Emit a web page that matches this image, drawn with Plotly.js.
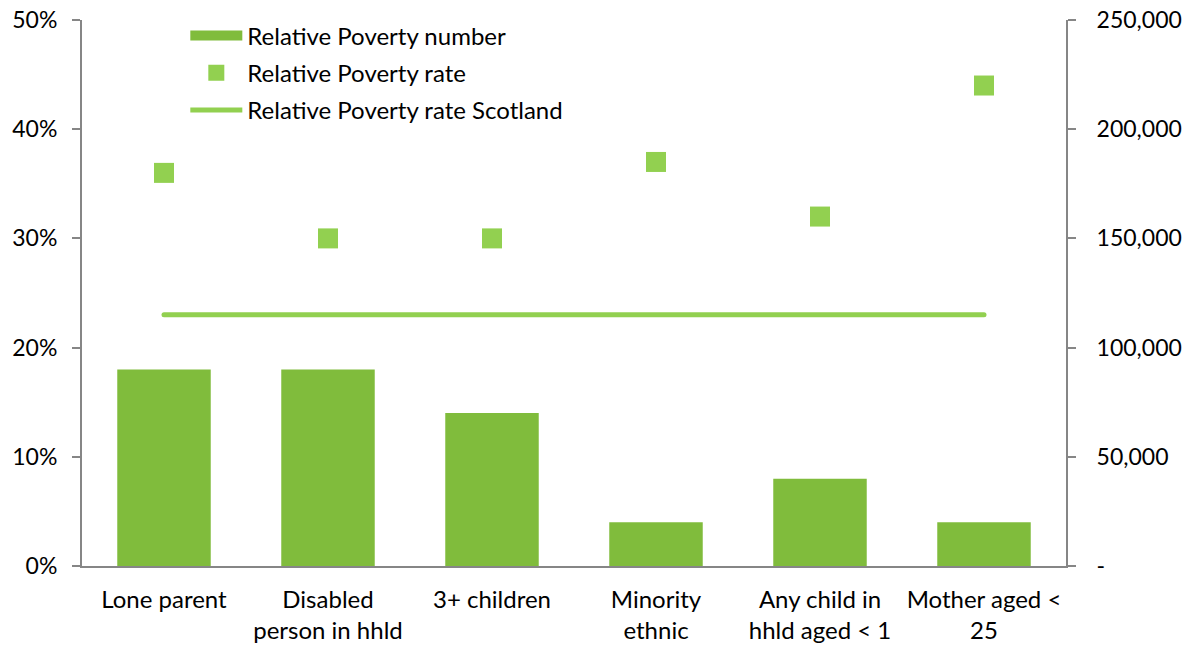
<!DOCTYPE html>
<html>
<head>
<meta charset="utf-8">
<script src="https://cdn.plot.ly/plotly-3.0.1.min.js"></script>
<style>html,body{margin:0;padding:0;background:#fff;}#chart{width:1197px;height:650px;}
#chart .scatterlayer .js-line{stroke-linecap:round !important;}</style>
</head>
<body>
<div id="chart"></div>
<script>
const categories = ["Lone parent", "Disabled<br>person in hhld", "3+ children", "Minority<br>ethnic", "Any child in<br>hhld aged &lt; 1", "Mother aged &lt;<br>25"];
const povertyNumber = [90000, 90000, 70000, 20000, 40000, 20000];
const povertyRate = [0.36, 0.30, 0.30, 0.37, 0.32, 0.44];
const scotlandRate = [0.23, 0.23, 0.23, 0.23, 0.23, 0.23];
const leftTicks = [0, 0.1, 0.2, 0.3, 0.4, 0.5];
const rightTickVals = [0, 50000, 100000, 150000, 200000, 250000];
const rightTickText = ["-", "50,000", "100,000", "150,000", "200,000", "250,000"];

const FONT = "Lato, 'Open Sans', sans-serif";
const AX = "#868686";

const traces = [
  {type: "bar", name: "Relative Poverty number", x: categories, y: povertyNumber, yaxis: "y2",
   marker: {color: "#80BC3C"}, width: 0.57, legendgroup: "a", showlegend: false, hoverinfo: "skip"},
  {type: "scatter", mode: "lines", name: "Relative Poverty number", x: [null], y: [null], yaxis: "y2",
   line: {color: "#80BC3C", width: 15}, legendgroup: "a", showlegend: true},
  {type: "scatter", mode: "markers", name: "Relative Poverty rate", x: categories, y: povertyRate,
   marker: {symbol: "square", size: 20, color: "#92D050"}, legendgroup: "b"},
  {type: "scatter", mode: "lines", name: "Relative Poverty rate Scotland", x: categories, y: scotlandRate,
   line: {color: "#92D050", width: 5}, legendgroup: "c"}
];

const layout = {
  width: 1197, height: 650,
  margin: {l: 82, r: 131, t: 20, b: 84},
  paper_bgcolor: "#fff", plot_bgcolor: "#fff",
  font: {family: FONT, size: 24, color: "#000"},
  showlegend: true,
  legend: {x: 0.105, y: 1.012, xanchor: "left", yanchor: "top", bgcolor: "rgba(0,0,0,0)",
           traceorder: "grouped", tracegroupgap: 3, itemwidth: 52, font: {size: 24}},
  xaxis: {type: "category", range: [-0.5, 5.5], showline: true, linecolor: AX, linewidth: 2,
          ticks: "", showgrid: false, zeroline: false, tickfont: {size: 24}, ticklabelstandoff: 11},
  yaxis: {range: [0, 0.5], tickvals: leftTicks, tickformat: ".0%", showline: true, linecolor: AX, linewidth: 2,
          ticks: "outside", ticklen: 8, tickcolor: AX, tickwidth: 2, showgrid: false, zeroline: false,
          ticklabelstandoff: 10, tickfont: {size: 23}},
  yaxis2: {range: [0, 250000], overlaying: "y", side: "right", tickvals: rightTickVals, ticktext: rightTickText,
           showline: true, linecolor: AX, linewidth: 2, ticks: "outside", ticklen: 8, tickcolor: AX, tickwidth: 2,
           showgrid: false, zeroline: false, ticklabelstandoff: 16, tickfont: {size: 23}}
};

Plotly.newPlot("chart", traces, layout, {displayModeBar: false, staticPlot: true});
</script>
</body>
</html>
